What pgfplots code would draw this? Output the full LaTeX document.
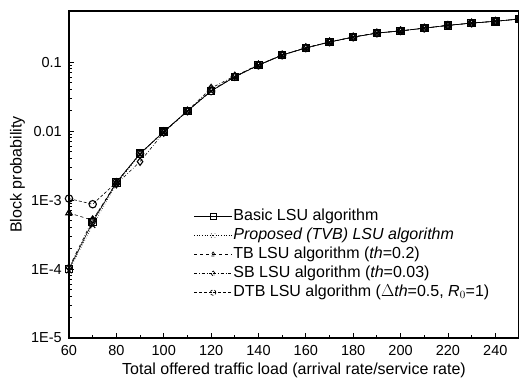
\documentclass[border=0pt]{standalone}
\usepackage{pgfplots}
\pgfplotsset{compat=1.18}
\usepackage{fontspec}
\setmainfont{Liberation Sans}
\setsansfont{Liberation Sans}
\begin{document}
\fontsize{12}{14}\selectfont
\begin{tikzpicture}
\useasboundingbox (-69pt,-45pt) rectangle (450pt,338pt);
\begin{axis}[
  at={(0pt,0pt)}, anchor=south west,
  scale only axis, width=450pt, height=327pt,
  xmin=60, xmax=250, ymode=log, ymin=1e-5, ymax=0.55,
  xtick={60,80,...,240}, minor x tick num=1,
  ytick={1e-5,1e-4,1e-3,0.01,0.1},
  yticklabels={1E-5,1E-4,1E-3,0.01,0.1},
  /pgf/number format/assume math mode=true,
  xtick pos=bottom, ytick pos=left,
  tick align=inside,
  major tick length=5pt, minor tick length=3pt,
  every tick/.style={black, line width=0.8pt},
  axis line style={line width=1.5pt},
  tick label style={font=\fontsize{14.5}{16}\selectfont},
  xticklabel style={yshift=-3pt},
  yticklabel style={xshift=-3pt},
  label style={font=\fontsize{16}{18}\selectfont},
  xlabel={Total offered traffic load (arrival rate/service rate)},
  ylabel={Block probability},
  xlabel style={yshift=1pt},
  ylabel style={yshift=-2pt},
  every axis plot/.append style={black, line width=0.6pt, mark size=3.7pt,
     mark options={solid, fill=white, line width=1.1pt}},
  legend style={at={(0.277,0.398)}, anchor=north west, draw=none, fill=none,
     inner sep=0pt, row sep=2pt, font=\fontsize{16}{18}\selectfont,
     nodes={inner sep=1pt, text height=11pt, text depth=4pt}},
  legend cell align=left,
  legend image code/.code={
    \draw[#1, mark options={scale=0.75, line width=0.7pt}] (0pt,0pt) -- (19pt,0pt) plot coordinates {(19pt,0pt)} -- (38pt,0pt);
  },
]
\addplot[solid, mark=square] coordinates {
(60,1.0e-4) (70,4.8e-4) (80,0.0018) (90,0.0047) (100,0.0098) (110,0.0195)
(120,0.038) (130,0.061) (140,0.090) (150,0.126) (160,0.160) (170,0.195)
(180,0.230) (190,0.263) (200,0.283) (210,0.310) (220,0.340) (230,0.367)
(240,0.390) (250,0.420)};
\addlegendentry{Basic LSU algorithm}
\addplot[dotted, mark=x] coordinates {
(60,0.95e-4) (70,4.3e-4) (80,0.0017) (90,0.0046) (100,0.0097) (110,0.0195)
(120,0.038) (130,0.061) (140,0.090) (150,0.126) (160,0.160) (170,0.195)
(180,0.230) (190,0.263) (200,0.283) (210,0.310) (220,0.340) (230,0.367)
(240,0.390) (250,0.420)};
\addlegendentry{\itshape Proposed (TVB) LSU algorithm}
\addplot[dashed, mark=triangle] coordinates {
(60,6.5e-4) (70,5.1e-4) (80,0.0018) (90,0.0047) (100,0.0098) (110,0.0195)
(120,0.039) (130,0.062) (140,0.091) (150,0.127) (160,0.162) (170,0.196)
(180,0.231) (190,0.264) (200,0.284) (210,0.311) (220,0.341) (230,0.368)
(240,0.391) (250,0.421)};
\addlegendentry{TB LSU algorithm (\textit{th}=0.2)}
\addplot[dash dot, mark=diamond] coordinates {
(60,1.05e-4) (70,5.2e-4) (80,0.0017) (90,0.0036) (100,0.0095) (110,0.0195)
(120,0.042) (130,0.063) (140,0.091) (150,0.127) (160,0.161) (170,0.196)
(180,0.231) (190,0.264) (200,0.284) (210,0.311) (220,0.341) (230,0.368)
(240,0.391) (250,0.421)};
\addlegendentry{SB LSU algorithm (\textit{th}=0.03)}
\addplot[densely dashed, mark=o] coordinates {
(60,1.05e-3) (70,8.7e-4) (80,0.0018) (90,0.0047) (100,0.0098) (110,0.0195)
(120,0.038) (130,0.061) (140,0.090) (150,0.126) (160,0.160) (170,0.195)
(180,0.230) (190,0.263) (200,0.283) (210,0.310) (220,0.340) (230,0.367)
(240,0.390) (250,0.420)};
\addlegendentry{DTB LSU algorithm ($\Delta$\textit{th}=0.5, \textit{R}$_0$=1)}
\end{axis}
\end{tikzpicture}
\end{document}
